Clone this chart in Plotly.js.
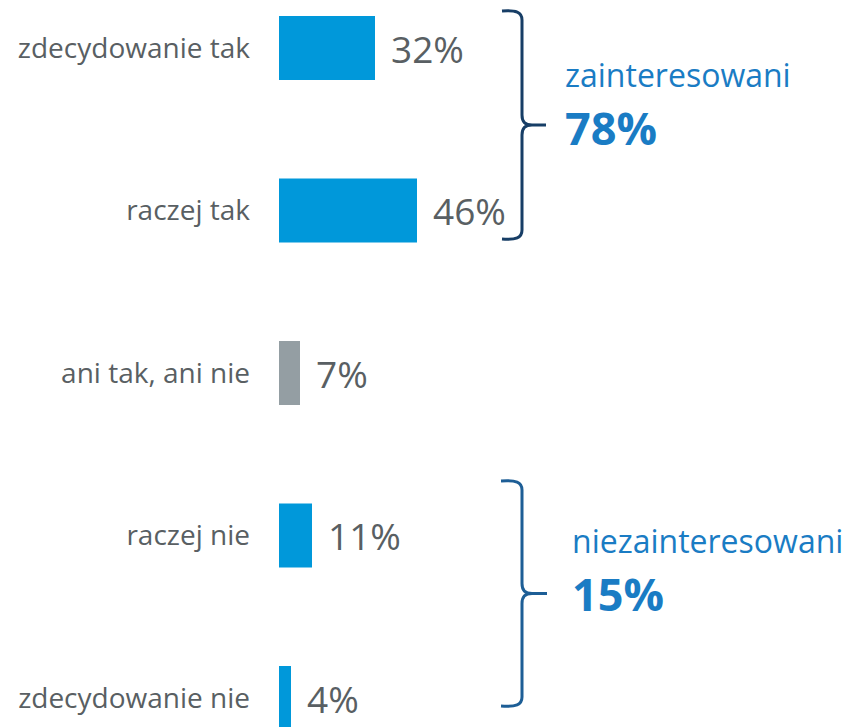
<!DOCTYPE html>
<html>
<head>
<meta charset="utf-8">
<script src="https://cdn.plot.ly/plotly-3.0.1.min.js"></script>
<style>html,body{margin:0;padding:0;background:#fff;}#chart{width:854px;height:727px;}</style>
</head>
<body>
<div id="chart"></div>
<script>
// Data
const categories = ["zdecydowanie tak", "raczej tak", "ani tak, ani nie", "raczej nie", "zdecydowanie nie"];
const values = [32, 46, 7, 11, 4];
const barColors = ["#0098DA", "#0098DA", "#949EA3", "#0098DA", "#0098DA"];
const groupNames = ["zainteresowani", "niezainteresowani"];
const groupTotals = [78, 15];

// Layout geometry
const W = 854, H = 727, L = 279;
const pitch = 162.5, firstCenter = 48;
const r0 = -firstCenter / pitch;
const r1 = r0 + H / pitch;
const px = x => (x - L) / (W - L);
const py = y => 1 - y / H;

const labelFont = {family: "Open Sans, sans-serif", size: 28, color: "#595F63"};
const valueFont = {family: "Open Sans, sans-serif", size: 37, color: "#595F63"};

const trace = {
  type: "bar",
  orientation: "h",
  y: categories,
  x: values,
  marker: {color: barColors},
  width: 0.394,
  hoverinfo: "none"
};

const annotations = values.map((v, i) => ({
  x: v, y: categories[i], xref: "x", yref: "y",
  text: v + "%", showarrow: false, xanchor: "left", yanchor: "middle",
  xshift: 14, font: valueFont
}));

const groupY = [[75, 128], [540, 593]];
const groupX = [563, 570];
groupNames.forEach((g, i) => {
  annotations.push({
    x: px(groupX[i]), y: py(groupY[i][0]), xref: "paper", yref: "paper",
    text: g, showarrow: false, xanchor: "left", yanchor: "middle",
    font: {family: "Open Sans, sans-serif", size: 32, color: "#1A7CC4"}
  });
  annotations.push({
    x: px(groupX[i]), y: py(groupY[i][1]), xref: "paper", yref: "paper",
    text: "<b>" + groupTotals[i] + "%</b>", showarrow: false, xanchor: "left", yanchor: "middle",
    font: {family: "Open Sans, sans-serif", size: 45, color: "#1A7CC4"}
  });
});

function brace(top, bot, xl, xv, xt) {
  const mid = (top + bot) / 2;
  const P = (x, y) => px(x).toFixed(5) + "," + py(y).toFixed(5);
  return "M " + P(xl, top + 1) +
    " C " + P(xv - 6, top) + " " + P(xv, top + 2) + " " + P(xv, top + 10) +
    " L " + P(xv, mid - 10) +
    " C " + P(xv, mid - 3) + " " + P(xv + 3, mid) + " " + P(xv + 10, mid) +
    " L " + P(xt, mid) +
    " M " + P(xv + 10, mid) +
    " C " + P(xv + 3, mid) + " " + P(xv, mid + 3) + " " + P(xv, mid + 10) +
    " L " + P(xv, bot - 10) +
    " C " + P(xv, bot - 2) + " " + P(xv - 6, bot) + " " + P(xl, bot - 1);
}

const shapes = [
  {type: "path", xref: "paper", yref: "paper", path: brace(10, 240, 502, 522, 546),
   line: {color: "#173E66", width: 3}},
  {type: "path", xref: "paper", yref: "paper", path: brace(480, 707, 501, 522, 547),
   line: {color: "#1D5E96", width: 3}}
];

const layout = {
  width: W, height: H,
  margin: {l: L, r: 0, t: 0, b: 0, pad: 0},
  paper_bgcolor: "#fff", plot_bgcolor: "#fff",
  showlegend: false,
  xaxis: {range: [0, (W - L) / 3], visible: false, fixedrange: true},
  yaxis: {
    range: [r1, r0], type: "category",
    showgrid: false, zeroline: false, showline: false,
    ticks: "", ticklabelstandoff: 28,
    tickfont: labelFont, fixedrange: true
  },
  annotations: annotations,
  shapes: shapes
};

Plotly.newPlot("chart", [trace], layout, {displayModeBar: false, staticPlot: true});
</script>
</body>
</html>
